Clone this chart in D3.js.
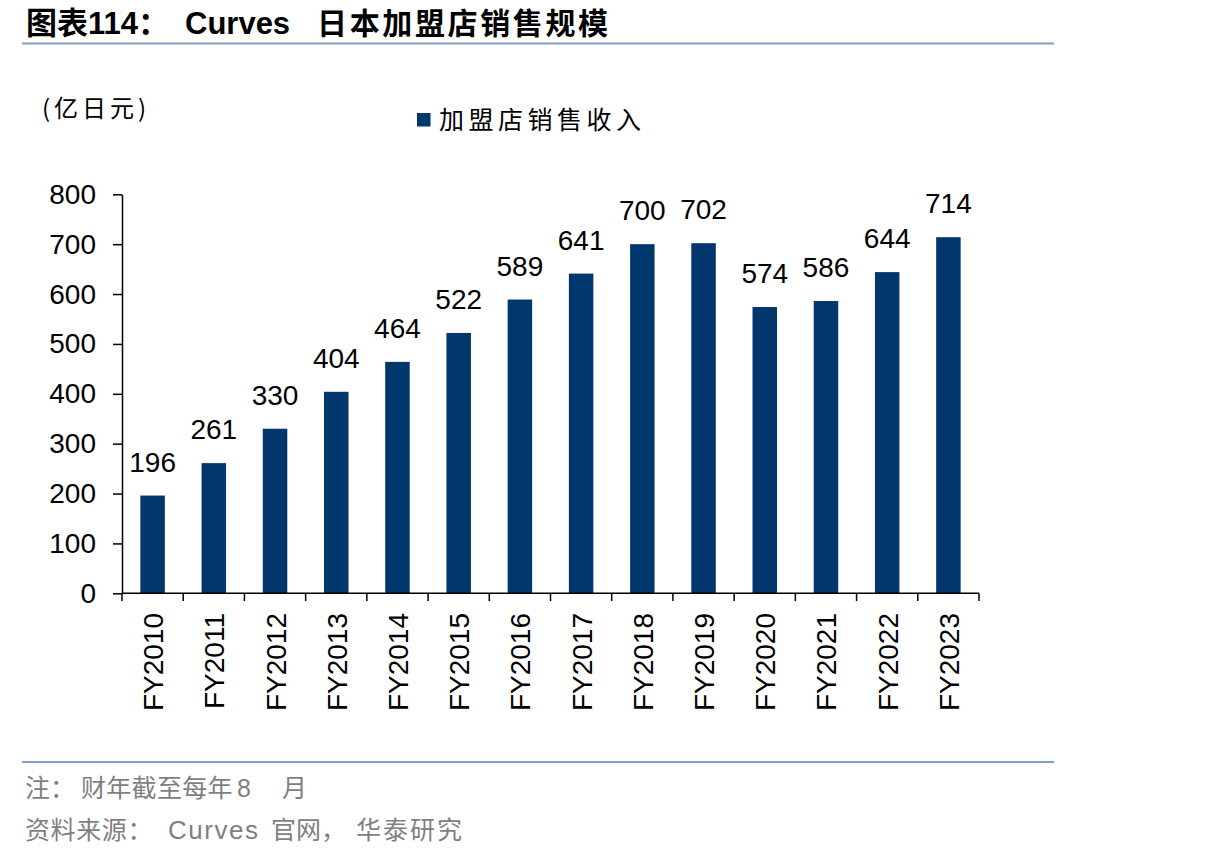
<!DOCTYPE html>
<html><head><meta charset="utf-8">
<script src="https://cdn.jsdelivr.net/npm/d3@7"></script>
<style>body{margin:0;background:#fff;}svg{display:block;}</style>
</head><body>
<svg id="c" width="1206" height="858"></svg>
<script>
const categories = ["FY2010","FY2011","FY2012","FY2013","FY2014","FY2015","FY2016","FY2017","FY2018","FY2019","FY2020","FY2021","FY2022","FY2023"];
const values = [196,261,330,404,464,522,589,641,700,702,574,586,644,714];
const yTicks = [0,100,200,300,400,500,600,700,800];
const seriesName = "加盟店销售收入";
const titlePrefix = "图表114：";
const titleLatin = "Curves";
const titleCjk = "日本加盟店销售规模";
const unitText = "(亿日元)";
const noteParts = ["注：", "财年截至每年", "8", "月"];
const sourceParts = ["资料来源：", "Curves", "官网，", "华泰研究"];

const svg = d3.select("#c");
const barColor = "#02376E";
const cjk = "'Noto Sans CJK SC', 'Liberation Sans', sans-serif";
const latin = "'Liberation Sans', Arial, sans-serif";
const latinFirst = "'Liberation Sans', 'Noto Sans CJK SC', sans-serif";
const grey = "#7F7F7F";

// title
svg.append("text").attr("x", 26).attr("y", 34).attr("font-size", 31).attr("font-weight", "bold")
  .attr("font-family", latinFirst).text(titlePrefix);
svg.append("text").attr("x", 185).attr("y", 34).attr("font-size", 31).attr("font-weight", "bold")
  .attr("font-family", latin).text(titleLatin);
svg.append("text").attr("x", 317).attr("y", 34).attr("font-size", 30).attr("font-weight", 600)
  .attr("font-family", cjk).attr("textLength", 291).attr("lengthAdjust", "spacing").text(titleCjk);
svg.append("line").attr("x1", 22).attr("x2", 1054).attr("y1", 43.5).attr("y2", 43.5).attr("stroke", "#7FA0C8").attr("stroke-width", 2);

// unit
svg.append("text").attr("x", 42).attr("y", 117).attr("font-family", cjk).attr("font-size", 24)
  .attr("textLength", 104).attr("lengthAdjust", "spacing").attr("fill", "#000").text(unitText);

// legend
svg.append("rect").attr("x", 417).attr("y", 113).attr("width", 13.5).attr("height", 13.5).attr("fill", barColor);
svg.append("text").attr("x", 439).attr("y", 129).attr("font-family", cjk).attr("font-size", 25)
  .attr("textLength", 202).attr("lengthAdjust", "spacing").attr("fill", "#000").text(seriesName);

// scales
const x = d3.scaleBand().domain(categories).range([122, 979]).paddingInner(0.6).paddingOuter(0.3);
const y = d3.scaleLinear().domain([0, 800]).range([593.3, 194.3]);

// bars
svg.append("g").selectAll("rect").data(values).join("rect")
  .attr("x", (d, i) => x(categories[i]))
  .attr("width", x.bandwidth())
  .attr("y", d => y(d))
  .attr("height", d => y(0) - y(d))
  .attr("fill", barColor);

// data labels
svg.append("g").selectAll("text").data(values).join("text")
  .attr("x", (d, i) => x(categories[i]) + x.bandwidth() / 2)
  .attr("y", d => y(d) - 24)
  .attr("text-anchor", "middle")
  .attr("font-family", latin).attr("font-size", 28).attr("fill", "#000")
  .text(d => d);

// y axis
const yAxis = d3.axisLeft(y).tickValues(yTicks).tickSize(9).tickPadding(17).tickSizeOuter(0);
const gy = svg.append("g").attr("transform", "translate(122,0)").call(yAxis);
gy.selectAll("text").attr("font-family", latin).attr("font-size", 28).attr("fill", "#000");
gy.selectAll("line,path").attr("stroke", "#000").attr("stroke-width", 1.5);

// x axis with ticks at band boundaries
const xb = d3.scaleLinear().domain([0, categories.length]).range([122, 979]);
const gx = svg.append("g");
gx.append("line").attr("x1", 122).attr("x2", 979).attr("y1", 593.3).attr("y2", 593.3).attr("stroke", "#000").attr("stroke-width", 1.5);
gx.selectAll("line.tk").data(d3.range(categories.length + 1)).join("line").attr("class", "tk")
  .attr("x1", d => xb(d)).attr("x2", d => xb(d)).attr("y1", 593.3).attr("y2", 601)
  .attr("stroke", "#000").attr("stroke-width", 1.5);
gx.selectAll("text").data(categories).join("text")
  .attr("transform", d => `translate(${x(d) + x.bandwidth() / 2 + 10.5},613) rotate(-90)`)
  .attr("text-anchor", "end")
  .attr("font-family", latin).attr("font-size", 28).attr("fill", "#000")
  .text(d => d);

// footer
svg.append("line").attr("x1", 22).attr("x2", 1054).attr("y1", 762).attr("y2", 762).attr("stroke", "#7FA0C8").attr("stroke-width", 2);
const nt = svg.append("text").attr("y", 797).attr("fill", grey).attr("font-size", 25);
nt.append("tspan").attr("x", 25).attr("font-family", cjk).text(noteParts[0]);
nt.append("tspan").attr("x", 81).attr("font-family", cjk).attr("letter-spacing", 0.3).text(noteParts[1]);
nt.append("tspan").attr("x", 237).attr("font-family", latin).text(noteParts[2]);
nt.append("tspan").attr("x", 282).attr("font-family", cjk).text(noteParts[3]);

const st = svg.append("text").attr("y", 839).attr("fill", grey).attr("font-size", 25);
st.append("tspan").attr("x", 25).attr("font-family", cjk).attr("letter-spacing", 0.6).text(sourceParts[0]);
st.append("tspan").attr("x", 168).attr("font-family", latin).attr("font-size", 26).attr("textLength", 90).attr("lengthAdjust", "spacing").text(sourceParts[1]);
st.append("tspan").attr("x", 271).attr("font-family", cjk).text(sourceParts[2]);
st.append("tspan").attr("x", 356).attr("font-family", cjk).attr("letter-spacing", 2).text(sourceParts[3]);
</script>
</body></html>
